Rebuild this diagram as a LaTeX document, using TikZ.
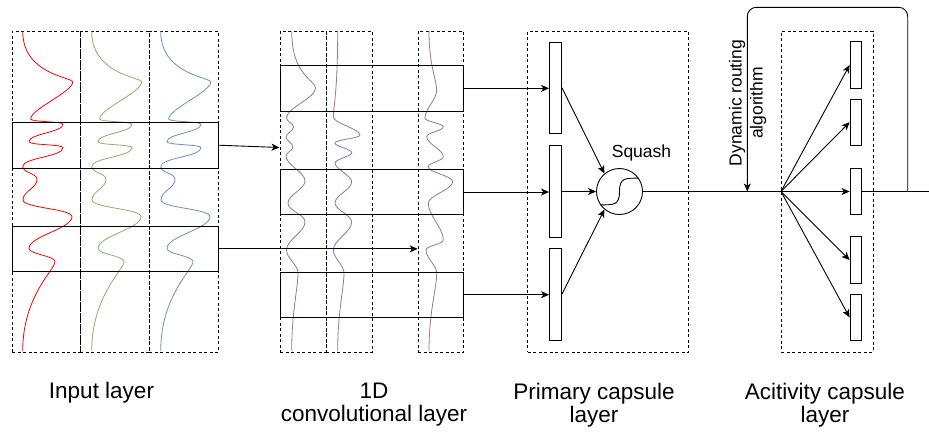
\documentclass[tikz,border=0pt]{standalone}
\usepackage{fontspec}
\setmainfont{Liberation Sans}
\usetikzlibrary{arrows.meta}
\definecolor{cred}{HTML}{FF0000}
\definecolor{cgreen}{HTML}{82B366}
\definecolor{cblue}{HTML}{6C8EBF}
\definecolor{cpurp}{HTML}{9673A6}
\begin{document}
\begin{tikzpicture}[x=1pt,y=-1pt,
  dbox/.style={draw, dash pattern=on 3pt off 2.5pt, line width=0.8pt, inner sep=0pt, anchor=north west},
  sbox/.style={draw, line width=1pt, inner sep=0pt, anchor=north west},
  bar/.style={draw, line width=0.9pt, minimum width=12pt, inner sep=0pt, fill=white},
  arr/.style={-{Stealth[length=8pt,width=7pt,inset=2.2pt]}, line width=0.9pt},
  wave/.style={line width=0.8pt},
  wv/.style={out=-90,in=90,distance=#1pt},
  lab/.style={font=\fontsize{22.5}{23}\selectfont, align=center, anchor=north, inner sep=0pt},
  small/.style={font=\fontsize{17.5}{21}\selectfont, inner sep=0pt, align=center}
]
\useasboundingbox (0,0) rectangle (929,432);

% ---------- input layer ----------
\node[dbox, minimum width=68.3pt, minimum height=321pt] (in1) at (11.7,30.7) {};
\node[dbox, minimum width=69pt, minimum height=321pt] (in2) at (80,30.7) {};
\node[dbox, minimum width=69pt, minimum height=321pt] (in3) at (149,30.7) {};
\foreach \c/\s in {cred/0,cgreen/69,cblue/138}{
\draw[wave, draw=\c, xshift=\s pt] (22.7,31)
  to[out=-90,in=90,out distance=44pt,in distance=5pt] (72.7,82)
  to[wv=10] (30.7,119) to[wv=3] (63,124.3) to[wv=8] (29,141.7)
  to[wv=3.5] (63,147.7) to[wv=9] (22.7,166.7) to[wv=6] (37,179.3)
  to[wv=9] (23,200) to[wv=8] (72,216.7) to[wv=12] (29,248.3)
  to[wv=6] (55,261.7)
  to[out=-90,in=90,out distance=8pt,in distance=55pt] (22.7,351);
}
\node[sbox, minimum width=206.3pt, minimum height=46pt] (inR1) at (11.7,121.7) {};
\node[sbox, minimum width=206.3pt, minimum height=45.3pt] (inR2) at (11.7,225.7) {};

% ---------- 1D conv layer ----------
\node[dbox, minimum width=45.7pt, minimum height=321pt] (cv1) at (280,30.7) {};
\node[dbox, minimum width=46pt, minimum height=321pt] (cv2) at (325.7,30.7) {};
\node[dbox, minimum width=45.6pt, minimum height=321pt] (cv3) at (417.7,30.7) {};
\draw[wave, draw=cpurp] (291.7,31)
  to[out=-90,in=90,out distance=45pt,in distance=8pt] (315.5,88)
  to[wv=10] (286.5,118) to[wv=3.5] (293.5,127) to[wv=3.5] (286,137)
  to[wv=3.5] (293,147) to[wv=3.5] (286,156) to[wv=9] (305,181)
  to[wv=8] (288,203) to[wv=8] (305,222) to[wv=10] (286.5,250)
  to[wv=8] (298,273)
  to[out=-90,in=90,out distance=15pt,in distance=40pt] (291.7,351);
\draw[wave, draw=cpurp] (337.7,31)
  to[out=-90,in=90,out distance=60pt,in distance=8pt] (333.3,117)
  to[wv=6] (360,135) to[wv=3.5] (335,143) to[wv=3.5] (351.7,152.7)
  to[wv=4] (335,163) to[wv=6] (351.7,181.7) to[wv=8] (335,203)
  to[wv=7] (351.7,222) to[wv=10] (333.3,250) to[wv=8] (344,273)
  to[out=-90,in=90,out distance=15pt,in distance=40pt] (337.7,351);
\draw[wave, draw=cpurp] (429,31)
  to[out=-90,in=90,out distance=35pt,in distance=10pt] (436.7,90)
  to[wv=10] (425,118.3) to[wv=3] (443.3,126.7) to[wv=4] (426.7,136.7)
  to[wv=7] (443.3,156.7) to[wv=4] (428.3,166.7) to[wv=6] (452.7,181.7)
  to[wv=8] (428.3,203.3) to[wv=12] (443.3,240) to[wv=4] (426,250)
  to[wv=8] (436.7,273.3)
  to[out=-90,in=90,out distance=15pt,in distance=40pt] (429,351);
\node[sbox, minimum width=183.3pt, minimum height=45.7pt] (cR1) at (280,65) {};
\node[sbox, minimum width=183.3pt, minimum height=45.7pt] (cR2) at (280,168.7) {};
\node[sbox, minimum width=183.3pt, minimum height=45pt] (cR3) at (280,271.7) {};

\coordinate (a1) at (279.5,147.5);
\draw[arr] (inR1.east) -- (a1);
\draw[arr] (inR2.east) -- (inR2.east -| cv3.west);

% ---------- primary capsule layer ----------
\node[dbox, minimum width=161pt, minimum height=321pt] (pbox) at (527.3,30.7) {};
\node[bar, minimum height=91.6pt] (pb1) at (555.5,87.8) {};
\node[bar, minimum height=91.7pt] (pb2) at (555.5,191.5) {};
\node[bar, minimum height=91.7pt] (pb3) at (555.5,294.2) {};
\draw[arr] (cR1.east) -- (cR1.east -| pb1.west);
\draw[arr] (cR2.east) -- (cR2.east -| pb2.west);
\draw[arr] (cR3.east) -- (cR3.east -| pb3.west);

\node[draw, circle, line width=0.9pt, minimum size=46pt, inner sep=0pt] (sq) at (619.5,191.5) {};
\draw[line width=0.9pt] (sq.215) .. controls (613,204.5) and (619.5,206) .. (619.5,191.5)
  .. controls (619.5,177) and (626,178.5) .. (sq.35);
\node[small, anchor=base] (sqt) at (641.5,157) {Squash};
\draw[arr] (pb1.east) -- (sq.130);
\draw[arr] (pb2.east) -- (sq.west);
\draw[arr] (pb3.east) -- (sq.230);

% ---------- activity capsule layer ----------
\node[dbox, minimum width=91.7pt, minimum height=321pt] (abox) at (781,30.7) {};
\node[bar, minimum width=11.7pt, minimum height=46.6pt] (ab1) at (855.9,65) {};
\node[bar, minimum width=11.7pt, minimum height=45.7pt] (ab2) at (855.9,122.2) {};
\node[bar, minimum width=11.7pt, minimum height=45.7pt] (ab3) at (855.9,191.5) {};
\node[bar, minimum width=11.7pt, minimum height=46.6pt] (ab4) at (855.9,260) {};
\node[bar, minimum width=11.7pt, minimum height=46.7pt] (ab5) at (855.9,317.4) {};

\coordinate (fan) at (781,191.5);
\coordinate (rend) at (929,191.5);
\coordinate (lp) at (907.7,191.5);
\coordinate (dr) at (747.3,191.5);
\draw[line width=0.9pt] (sq.east) -- (fan);
\foreach \b in {ab1,ab2,ab3,ab4,ab5} \draw[arr] (fan) -- (\b.west);
\draw[line width=0.9pt] (ab3.east) -- (rend);
\draw[arr, rounded corners=9pt] (lp) -- ++(0,-184.2) -| (dr);
\node[small, rotate=90] (dyn) at (747.5,103) {Dynamic routing\\algorithm};

% ---------- labels ----------
\node[lab] (l1) at (101.5,382) {Input layer};
\node[lab] (l2) at (374,383) {1D\\convolutional layer};
\node[lab] (l3) at (594,383) {Primary capsule\\layer};
\node[lab] (l4) at (825,383) {Acitivity capsule\\layer};
\end{tikzpicture}
\end{document}
